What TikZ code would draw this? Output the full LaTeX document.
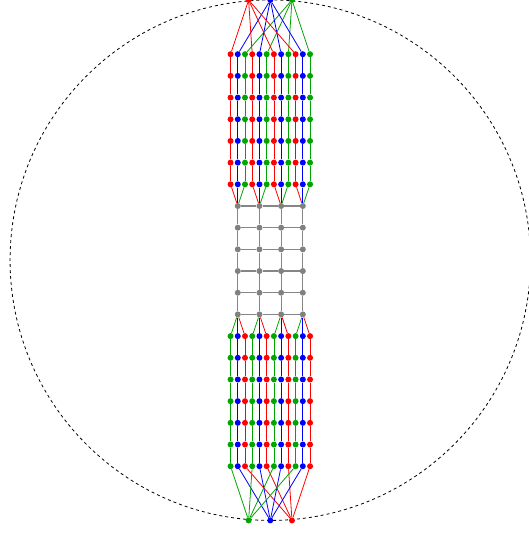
\documentclass[tikz,border=0pt]{standalone}
\usepackage{tikz}
\usetikzlibrary{backgrounds}
\definecolor{dotgreen}{RGB}{0,165,0}

\begin{document}
\begin{tikzpicture}[x=21.7pt,y=21.7pt,
  dot/.style={circle,fill=#1,inner sep=0pt,minimum size=6pt},
  wire/.style={draw=#1,line width=0.8pt},
  mesh/.style={draw=gray!95,line width=1.2pt}]
\useasboundingbox (-12.465,-12.58) rectangle (11.912,12);
\draw[line width=0.8pt,dash pattern=on 3pt off 3pt] (0,0) circle (12);
% end nodes
\foreach \cl/\j in {red/0,blue/1,dotgreen/2}
  \node[dot=\cl] (t-\j) at (\j-1,12) {};
\foreach \cl/\j in {dotgreen/0,blue/1,red/2}
  \node[dot=\cl] (u-\j) at (\j-1,-12) {};
% upper block
\foreach \r in {1,...,7}
  \foreach \k in {0,...,3}
    \foreach \cl/\j in {red/0,blue/1,dotgreen/2}
      \node[dot=\cl] (a-\r-\k-\j) at ({-1.5+\k+(\j-1)/3},{10.5-\r}) {};
% grid
\foreach \r in {1,...,6}
  \foreach \k in {0,...,3}
    \node[dot=gray] (g-\r-\k) at (-1.5+\k,3.5-\r) {};
% lower block
\foreach \r in {1,...,7}
  \foreach \k in {0,...,3}
    \foreach \cl/\j in {dotgreen/0,blue/1,red/2}
      \node[dot=\cl] (b-\r-\k-\j) at ({-1.5+\k+(\j-1)/3},{-2.5-\r}) {};

\begin{scope}[on background layer]
\foreach \k in {0,...,3}
  \foreach \cl/\j in {red/0,blue/1,dotgreen/2} {
    \draw[wire=\cl] (t-\j) -- (a-1-\k-\j);
    \foreach \r/\s in {1/2,2/3,3/4,4/5,5/6,6/7}
      \draw[wire=\cl] (a-\r-\k-\j) -- (a-\s-\k-\j);
    \draw[wire=\cl] (a-7-\k-\j) -- (g-1-\k);
  }
\foreach \k in {0,...,3}
  \foreach \cl/\j in {dotgreen/0,blue/1,red/2} {
    \draw[wire=\cl] (g-6-\k) -- (b-1-\k-\j);
    \foreach \r/\s in {1/2,2/3,3/4,4/5,5/6,6/7}
      \draw[wire=\cl] (b-\r-\k-\j) -- (b-\s-\k-\j);
    \draw[wire=\cl] (b-7-\k-\j) -- (u-\j);
  }
\foreach \r in {1,...,6}
  \foreach \k/\m in {0/1,1/2,2/3}
    \draw[mesh] (g-\r-\k) -- (g-\r-\m);
\foreach \r/\s in {1/2,2/3,3/4,4/5,5/6}
  \foreach \k in {0,...,3}
    \draw[mesh] (g-\r-\k) -- (g-\s-\k);
\end{scope}
\end{tikzpicture}
\end{document}
